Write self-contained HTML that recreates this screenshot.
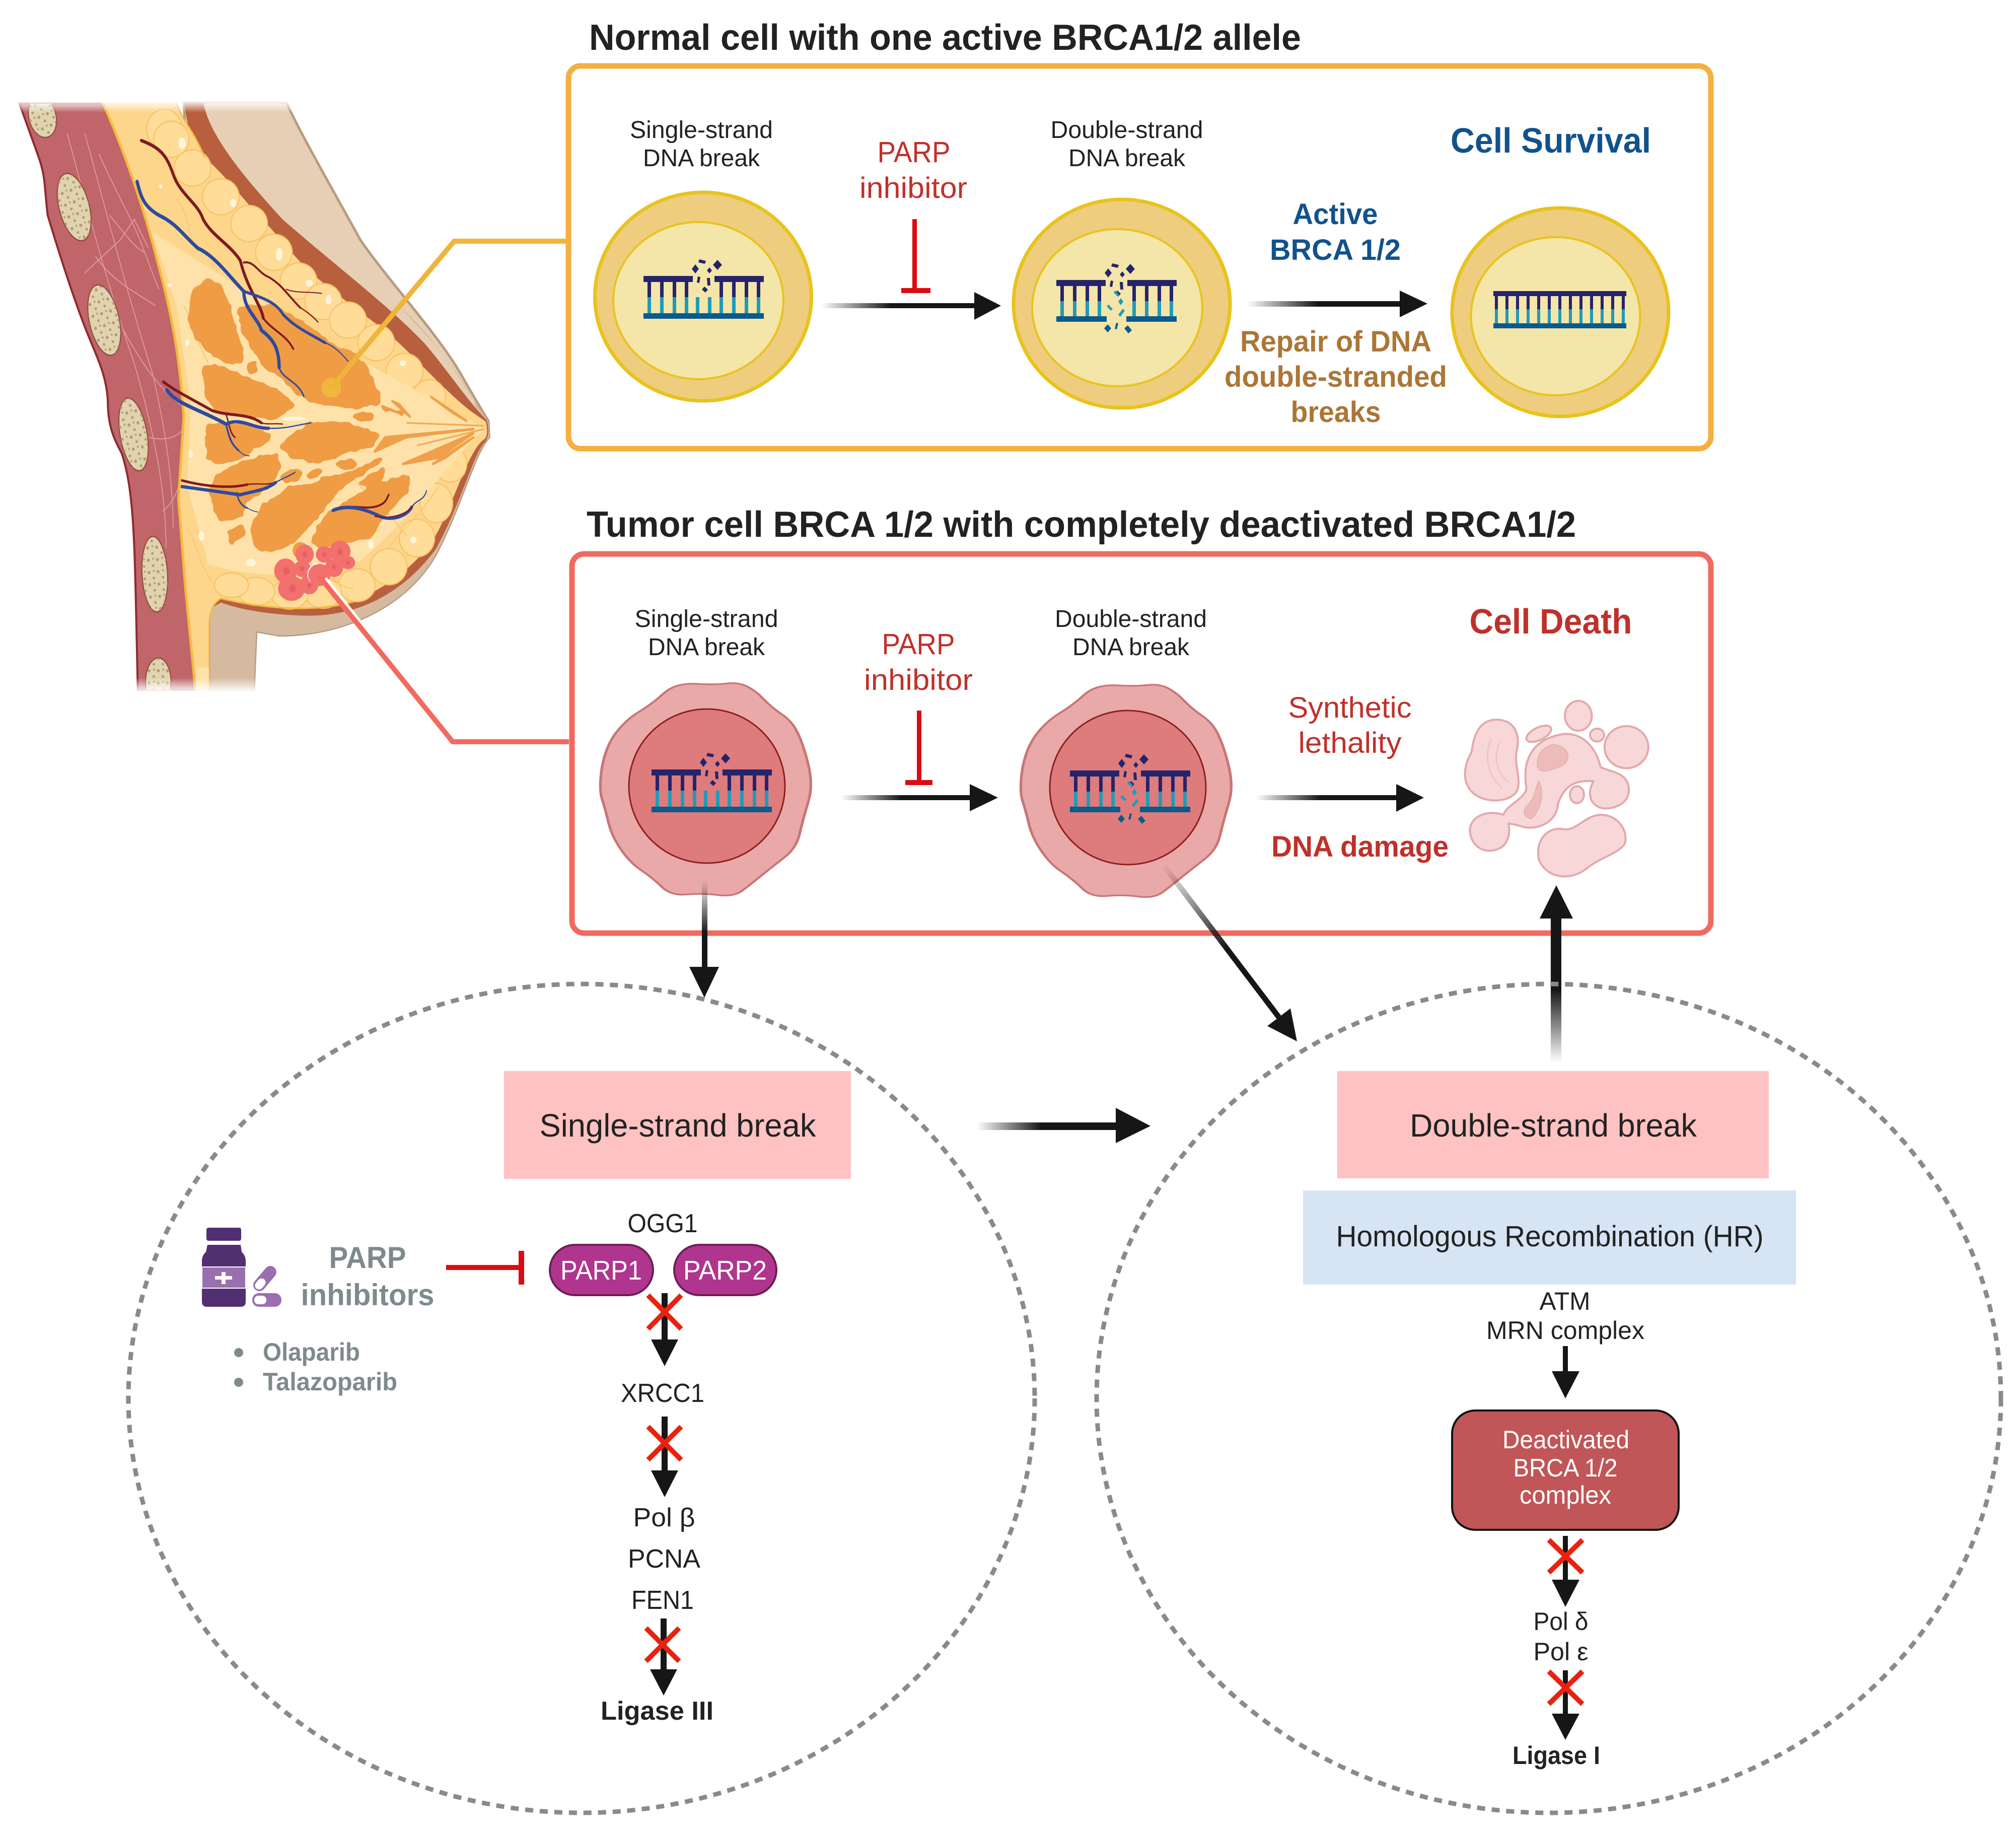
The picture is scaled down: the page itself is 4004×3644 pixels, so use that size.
<!DOCTYPE html>
<html><head><meta charset="utf-8"><style>
html,body{margin:0;padding:0;background:#fff}svg{display:block}
text{font-family:"Liberation Sans",sans-serif;fill:#222}
.m{text-anchor:middle}.b{font-weight:bold}
.r{fill:#c0302b}.bl{fill:#12528c}.br{fill:#ab7636}.g{fill:#7f8a8c}.w{fill:#fff}
.navy{fill:#25246b}.teal{fill:#1f9bb8}.dk{fill:#0a5a8c}
</style></head><body>
<svg width="4004" height="3644" viewBox="0 0 4004 3644" xmlns="http://www.w3.org/2000/svg">
<defs>
<linearGradient id="fh" x1="0" x2="1" y1="0" y2="0"><stop offset="0" stop-color="#161616" stop-opacity="0"/><stop offset=".45" stop-color="#161616"/><stop offset="1" stop-color="#161616"/></linearGradient>
<linearGradient id="fv" x1="0" x2="0" y1="0" y2="1"><stop offset="0" stop-color="#161616" stop-opacity="0"/><stop offset=".6" stop-color="#161616"/></linearGradient>
<linearGradient id="fu" x1="0" x2="0" y1="1" y2="0"><stop offset="0" stop-color="#161616" stop-opacity="0"/><stop offset=".5" stop-color="#161616"/></linearGradient>
<linearGradient id="fd" gradientUnits="userSpaceOnUse" x1="2310" y1="1717" x2="2540" y2="2020"><stop offset="0" stop-color="#161616" stop-opacity="0"/><stop offset=".55" stop-color="#161616"/></linearGradient>
<linearGradient id="wt" x1="0" x2="0" y1="0" y2="1"><stop offset="0" stop-color="#fff"/><stop offset="1" stop-color="#fff" stop-opacity="0"/></linearGradient>
<linearGradient id="wb" x1="0" x2="0" y1="1" y2="0"><stop offset="0" stop-color="#fff"/><stop offset="1" stop-color="#fff" stop-opacity="0"/></linearGradient>
<filter id="cl" x="-5%" y="-5%" width="110%" height="110%" color-interpolation-filters="sRGB">
<feTurbulence type="fractalNoise" baseFrequency=".025" numOctaves="2" seed="3" result="n"/>
<feDisplacementMap in="SourceGraphic" in2="n" scale="34" xChannelSelector="R" yChannelSelector="G" result="d"/>
<feGaussianBlur in="d" stdDeviation="8" result="bl"/>
<feComponentTransfer in="bl"><feFuncA type="linear" slope="10" intercept="-4"/></feComponentTransfer>
</filter>
<pattern id="sp" width="26" height="30" patternUnits="userSpaceOnUse"><circle cx="6" cy="8" r="4" fill="#b89a70"/><circle cx="19" cy="22" r="3.5" fill="#b89a70"/><circle cx="20" cy="5" r="2.5" fill="#b89a70"/></pattern>

<g id="rungsL">
<rect class="navy" x="8" y="12" width="7" height="30"/><rect class="navy" x="33" y="12" width="7" height="30"/><rect class="navy" x="58" y="12" width="7" height="30"/><rect class="navy" x="82" y="12" width="7" height="30"/>
<rect class="navy" x="151" y="12" width="7" height="30"/><rect class="navy" x="176" y="12" width="7" height="30"/><rect class="navy" x="201" y="12" width="7" height="30"/><rect class="navy" x="225" y="12" width="7" height="30"/>
<rect class="teal" x="8" y="42" width="7" height="32"/><rect class="teal" x="33" y="42" width="7" height="32"/><rect class="teal" x="58" y="42" width="7" height="32"/><rect class="teal" x="82" y="42" width="7" height="32"/>
<rect class="teal" x="151" y="42" width="7" height="32"/><rect class="teal" x="176" y="42" width="7" height="32"/><rect class="teal" x="201" y="42" width="7" height="32"/><rect class="teal" x="225" y="42" width="7" height="32"/>
<rect class="navy" x="0" y="0" width="98" height="12"/><rect class="navy" x="141" y="0" width="98" height="12"/>
<path class="navy" d="M147,-32l9,10-9,10-9-10zM103,-23l7,9-7,9-7-9zM111,-33l13,3-2,6-13-3zM131,-17l5,6-5,6-5-6zM108,1l5,1-2,12-5-1zM126,4l6,0 1,15-6,0zM121,21l7,6-5,6-7-6z"/>
</g>
<g id="dnaS"><use href="#rungsL"/>
<rect class="teal" x="104" y="42" width="7" height="32"/><rect class="teal" x="128" y="42" width="7" height="32"/>
<rect class="dk" x="0" y="74" width="239" height="11"/></g>
<g id="dnaD"><use href="#rungsL"/>
<rect class="dk" x="0" y="72" width="100" height="11"/><rect class="dk" x="139" y="72" width="100" height="11"/>
<path class="teal" d="M117,21l8,8-3,4-8-8zM128,36l5,7-5,7-5-7zM104,49l8,9-4,3-8-9zM132,57l4,4-9,12-4-4z"/>
<path class="dk" d="M119,85l4,1-3,12-4-1zM102,88l7,8-7,8-7-8zM142,90l8,10-7,6-8-10z"/></g>

<clipPath id="muscle"><path d="M55,68L290,68C390,260 430,400 460,500C490,600 510,700 520,830L505,1030L525,1250L553,1495L390,1495L385,1300C380,1100 375,1000 345,920C320,880 305,850 305,790C300,720 270,680 235,600C200,520 170,440 135,340C125,270 130,250 110,200Z"/></clipPath>
<path id="wavy" d="M315,568Q360,572 385,567Q410,562 430,578Q450,595 467,625Q485,655 507,680Q530,705 542,747Q555,790 566,865Q577,940 566,1000Q555,1060 547,1115Q540,1170 512,1205Q485,1240 462,1270Q440,1300 420,1325Q400,1350 365,1342Q330,1335 295,1340Q260,1345 240,1312Q220,1280 195,1252Q170,1225 150,1177Q130,1130 122,1080Q115,1030 107,990Q100,950 107,875Q115,800 137,750Q160,700 190,670Q220,640 245,602Q270,565 315,568Z"/>
<g id="ribs">
<ellipse cx="120" cy="100" rx="38" ry="52" transform="rotate(-20 120 100)"/>
<ellipse cx="210" cy="320" rx="42" ry="85" transform="rotate(-18 210 320)"/>
<ellipse cx="295" cy="595" rx="42" ry="88" transform="rotate(-15 295 595)"/>
<ellipse cx="378" cy="873" rx="38" ry="90" transform="rotate(-12 378 873)"/>
<ellipse cx="438" cy="1213" rx="36" ry="92" transform="rotate(-4 438 1213)"/>
<ellipse cx="448" cy="1475" rx="36" ry="58"/>
</g>
</defs>

<!-- Breast -->
<g transform="translate(0,150) scale(.7018,.8163)">
<path d="M575,65L810,65C850,140 930,260 1020,400C1100,500 1230,620 1300,720C1340,780 1360,810 1382,840L1384,880C1340,920 1310,1040 1230,1170C1140,1300 960,1362 790,1362L725,1352L718,1495L595,1495L595,1300L520,65Z" fill="#e7cfb5" stroke="#b79c80" stroke-width="5" vector-effect="non-scaling-stroke"/>
<path d="M1130,560C1230,640 1290,720 1340,790L1382,840L1384,880C1340,920 1310,1040 1230,1170C1140,1300 960,1362 790,1362L725,1352L718,1495L595,1495L595,1300C620,1270 650,1272 700,1285C900,1320 1100,1270 1230,1120C1300,1010 1310,930 1370,880L1340,790C1280,690 1200,630 1130,560Z" fill="#d6baa0"/>
<path d="M55,68L290,68C390,260 430,400 460,500C490,600 510,700 520,830L505,1030L525,1250L553,1495L390,1495L385,1300C380,1100 375,1000 345,920C320,880 305,850 305,790C300,720 270,680 235,600C200,520 170,440 135,340C125,270 130,250 110,200Z" fill="#c0656a" stroke="#8f2a2e" stroke-width="4" vector-effect="non-scaling-stroke"/>
<g clip-path="url(#muscle)" fill="none" stroke="#dc9c9e" stroke-width="2.5">
<path d="M190,140C240,300 300,500 380,700C430,850 470,1000 470,1150"/><path d="M240,140C300,330 370,560 430,720C470,860 490,1000 490,1100"/><path d="M280,190C300,230 340,300 370,350C400,400 420,460 450,520"/><path d="M310,340C350,380 380,420 410,430"/><path d="M270,440C320,500 370,520 440,560"/><path d="M350,620C400,700 450,760 510,800"/><path d="M420,880C470,890 500,880 520,860"/><path d="M460,1060C490,1040 505,1010 515,970"/>
<path d="M240,480L340,400L380,350L420,420"/>
</g>
<g clip-path="url(#muscle)" stroke="#8f4a3a" stroke-width="3" fill="#dfd3b0"><use href="#ribs"/></g>
<g clip-path="url(#muscle)" fill="url(#sp)"><use href="#ribs"/></g>
<!-- brown rim -->
<path d="M520,65L575,65C590,130 650,210 800,350C960,470 1100,560 1200,650C1270,720 1330,800 1378,838C1384,860 1384,880 1372,892C1340,920 1310,1030 1235,1150C1150,1250 1030,1312 880,1314C780,1314 680,1300 625,1282L590,1300L590,400Z" fill="#b8603e"/>
<!-- fatty body -->
<path d="M500,65C520,120 540,120 580,200C620,230 660,270 720,330C790,390 830,440 880,480C950,530 1010,570 1090,620C1170,680 1250,760 1330,815L1375,842C1380,860 1380,880 1370,885C1330,910 1300,1000 1250,1090C1210,1170 1110,1240 1000,1280C900,1305 760,1300 625,1272C600,1285 592,1310 592,1340L590,1495L553,1495L525,1250L505,1030L520,830C510,700 490,600 460,500C430,400 390,260 290,65Z" fill="#fdd68c"/>
<g fill="#ffdc98" stroke="#f7c266" stroke-width="3">
<ellipse cx="465" cy="130" rx="50" ry="48"/><ellipse cx="485" cy="155" rx="50" ry="44"/><ellipse cx="545" cy="225" rx="52" ry="44"/><ellipse cx="625" cy="295" rx="52" ry="44"/><ellipse cx="705" cy="360" rx="52" ry="44"/><ellipse cx="775" cy="430" rx="52" ry="44"/><ellipse cx="845" cy="500" rx="52" ry="44"/><ellipse cx="915" cy="550" rx="52" ry="44"/><ellipse cx="985" cy="595" rx="52" ry="44"/><ellipse cx="1065" cy="650" rx="52" ry="44"/><ellipse cx="1145" cy="720" rx="52" ry="44"/><ellipse cx="1215" cy="780" rx="46" ry="40"/>
<ellipse cx="1275" cy="945" rx="46" ry="44"/><ellipse cx="1235" cy="1040" rx="46" ry="48"/><ellipse cx="1180" cy="1125" rx="50" ry="46"/><ellipse cx="1100" cy="1195" rx="52" ry="44"/><ellipse cx="1010" cy="1240" rx="52" ry="40"/><ellipse cx="915" cy="1258" rx="52" ry="38"/><ellipse cx="820" cy="1262" rx="52" ry="36"/><ellipse cx="725" cy="1255" rx="52" ry="34"/><ellipse cx="655" cy="1240" rx="48" ry="30"/>
</g>
<path d="M430,380C560,450 700,530 860,610C1000,690 1200,770 1370,860C1250,960 1160,1080 1020,1180C880,1230 720,1220 590,1190L530,1000L540,800L500,560Z" fill="#fee2aa"/>
<path d="M290,65C390,260 430,400 460,500C490,600 510,700 520,830L505,1030L525,1250L553,1495" fill="none" stroke="#f5b93f" stroke-width="5" vector-effect="non-scaling-stroke"/>
<path d="M500,65C520,120 540,120 580,200" fill="none" stroke="#f5b93f" stroke-width="4"/>
<path d="M592,1495L592,1340C592,1310 600,1285 625,1272C760,1300 900,1305 1000,1280" fill="none" stroke="#f5b93f" stroke-width="4"/>
<rect x="555" y="1440" width="36" height="55" fill="#fee2aa"/>
<g fill="none" stroke="#f9c878" stroke-width="3">
<path d="M500,300C540,340 530,400 560,430"/><path d="M590,700C560,660 550,600 520,560"/><path d="M530,1100C560,1150 570,1200 600,1230"/><path d="M1000,980C1040,1020 1100,1060 1150,1120"/><path d="M1100,1150C1130,1110 1200,1060 1240,1000"/><path d="M850,1150C900,1220 960,1240 1000,1250"/>
</g>
<path d="M1110,792L1160,830L1130,800ZM1220,782L1320,840L1280,820ZM1090,880L1340,860L1150,880L1060,915ZM1140,945L1340,870L1240,930ZM1225,945L1340,880L1260,930Z" fill="#f0a04b" stroke="#f0a04b" stroke-width="6" stroke-linejoin="round"/>
<path d="M1150,845L1370,852M1180,900L1370,860" stroke="#f2ab56" stroke-width="4" fill="none"/>
<g fill="#fff6dc">
<ellipse cx="515" cy="165" rx="10" ry="14"/><ellipse cx="660" cy="310" rx="9" ry="10"/><ellipse cx="790" cy="435" rx="9" ry="16"/><ellipse cx="875" cy="505" rx="10" ry="8"/><ellipse cx="930" cy="545" rx="8" ry="12"/><ellipse cx="1140" cy="700" rx="9" ry="7"/><ellipse cx="710" cy="1185" rx="14" ry="9"/><ellipse cx="1050" cy="1140" rx="8" ry="12"/><ellipse cx="540" cy="920" rx="6" ry="10"/><ellipse cx="570" cy="1120" rx="8" ry="12"/><ellipse cx="1170" cy="1130" rx="9" ry="8"/><ellipse cx="455" cy="270" rx="5" ry="5"/><ellipse cx="480" cy="510" rx="6" ry="5"/><ellipse cx="530" cy="650" rx="6" ry="8"/><ellipse cx="830" cy="835" rx="35" ry="5"/><ellipse cx="1150" cy="985" rx="20" ry="5" transform="rotate(-35 1150 985)"/>
</g>
</g>
<!-- Glandular lobes (coords px=300+z/3) -->
<g transform="translate(300,600) scale(.3333)" filter="url(#cl)" fill="#ef9c45" stroke="#ef9c45" stroke-width="26" stroke-linejoin="round">
<path d="M340,-130L400,-100L455,0L495,170L540,290L530,350L450,355L330,275L245,150L230,90L255,-60Z"/>
<path d="M530,40L720,30L850,95L960,170L1100,280L1200,300L1290,410L1365,590L1230,620L1050,610L950,580L880,540L760,425L690,385L620,295L545,150Z"/>
<path d="M590,370L620,370L625,415L595,420Z"/>
<path d="M320,385L380,380L520,440L680,500L760,540L850,620L800,635L730,700L600,670L400,640L340,575L330,480L305,420Z"/>
<path d="M345,745L420,730L560,740L700,795L690,825L600,870L530,930L400,955L345,920L335,795Z"/>
<path d="M780,860L860,790L950,730L1150,725L1350,790L1310,850L1180,880L1000,950L845,920Z"/>
<path d="M1215,680L1260,675L1310,672L1305,695L1240,700Z"/>
<path d="M1110,960L1180,945L1210,965L1185,990L1130,980Z"/>
<path d="M390,1045L480,990L640,930L745,920L760,980L690,1100L555,1190L530,1270L430,1295L400,1265L360,1130Z"/>
<path d="M780,1040L860,1000L890,1020L870,1055L800,1065Z"/>
<path d="M935,1030L1000,1000L1020,1008L950,1040Z"/>
<path d="M1250,1080L1380,1000L1375,1035L1295,1090Z"/>
<path d="M600,1350L680,1210L830,1110L960,1100L1040,1050L1180,1030L1370,940L1200,1050L1100,1120L1000,1260L850,1420L720,1480L635,1460Z"/>
<path d="M965,1420L1040,1280L1200,1180L1350,1090L1500,1050L1540,1040L1520,1125L1450,1190L1330,1335L1300,1395L1150,1420L1000,1460Z"/>
<path d="M465,1375L545,1335L550,1385L485,1430Z"/>
<path d="M1370,620L1500,660L1500,675L1380,635Z" stroke-width="10"/>
</g>
<g transform="translate(0,150) scale(.7018,.8163)">
<ellipse cx="850" cy="1155" rx="22" ry="20" fill="#ee9b42"/>
<g fill="none" stroke="#7d1a1f" stroke-linecap="round">
<path stroke-width="8" d="M400,158C450,175 470,190 490,240C510,290 560,310 575,350C600,390 650,410 680,450C700,520 740,560 745,590"/>
<path stroke-width="5" d="M745,590C770,620 810,630 830,665"/>
<path stroke-width="5" d="M690,455C720,450 730,480 760,490C800,510 820,540 850,565"/><path stroke-width="3" d="M850,565C870,575 890,590 900,600"/>
<path stroke-width="2.5" d="M810,520C840,530 870,525 910,530"/>
<path stroke-width="7" d="M462,745C500,770 550,790 600,815C650,830 700,820 740,845"/><path stroke-width="3" d="M740,845C760,850 780,845 800,848"/>
<path stroke-width="4" d="M640,825C650,850 650,870 665,880"/>
<path stroke-width="6" d="M515,985C580,1000 650,1005 700,995"/><path stroke-width="3" d="M700,995C730,990 760,1000 790,985"/>
<path stroke-width="5" d="M945,1055C990,1040 1040,1060 1075,1045C1090,1040 1095,1030 1100,1020"/>
</g>
<g fill="none" stroke="#2e4aa0" stroke-linecap="round">
<path stroke-width="9" d="M388,258C400,300 410,320 450,340C500,360 520,390 560,420C610,440 650,490 690,525C690,570 730,590 740,620C770,640 790,660 790,710"/>
<path stroke-width="4" d="M790,710C800,740 840,740 860,780"/>
<path stroke-width="7" d="M690,525C740,540 780,550 800,580C830,610 880,630 920,650"/><path stroke-width="3" d="M920,650C950,660 970,680 985,695"/>
<path stroke-width="9" d="M472,765C500,800 560,810 640,848"/><path stroke-width="5" d="M640,848C650,890 660,900 675,912"/><path stroke-width="2.5" d="M675,912C685,920 690,925 705,925"/>
<path stroke-width="8" d="M640,848C680,830 720,860 760,858"/><path stroke-width="3" d="M760,858C810,860 840,850 880,845"/>
<path stroke-width="8" d="M515,1000C560,1005 640,1015 680,1020C720,1010 750,1010 780,990"/><path stroke-width="3" d="M780,990C810,975 820,975 835,965"/>
<path stroke-width="4" d="M670,1015C675,1040 690,1050 700,1052"/><path stroke-width="2" d="M700,1052C710,1058 720,1060 730,1062"/>
<path stroke-width="8" d="M942,1058C980,1045 1020,1050 1070,1070C1100,1085 1150,1075 1165,1050"/><path stroke-width="3" d="M1165,1050C1180,1030 1200,1035 1207,1010"/>
</g>
<path d="M1060,1072C1100,1080 1150,1070 1170,1045" fill="none" stroke="#7d1a1f" stroke-width="3"/>
<ellipse cx="938" cy="760" rx="28" ry="24" fill="#f0b73c"/>
<g fill="#f2706e">
<ellipse cx="808" cy="1205" rx="32" ry="30"/><ellipse cx="825" cy="1248" rx="38" ry="30"/><ellipse cx="862" cy="1165" rx="26" ry="24"/><ellipse cx="855" cy="1200" rx="24" ry="20"/><ellipse cx="875" cy="1238" rx="26" ry="24"/><ellipse cx="918" cy="1165" rx="24" ry="20"/><ellipse cx="962" cy="1158" rx="30" ry="26"/><ellipse cx="985" cy="1185" rx="20" ry="16"/><ellipse cx="945" cy="1198" rx="26" ry="22"/>
</g>
<g fill="#e66062">
<circle cx="810" cy="1205" r="9"/><circle cx="828" cy="1248" r="10"/><circle cx="862" cy="1165" r="7"/><circle cx="855" cy="1200" r="6"/><circle cx="962" cy="1158" r="8"/><circle cx="985" cy="1185" r="5"/><circle cx="945" cy="1195" r="6"/><circle cx="875" cy="1240" r="6"/><circle cx="918" cy="1165" r="6"/>
</g>
<rect x="40" y="60" width="800" height="30" fill="url(#wt)"/>
<rect x="370" y="1465" width="370" height="35" fill="url(#wb)"/>
</g>
<!-- Leaders -->
<path d="M658,770L902,479H1130" fill="none" stroke="#f0b43a" stroke-width="10"/>
<path d="M618,1156A22,22 0 0 1 632,1119" fill="none" stroke="#fff" stroke-width="3"/>
<circle cx="634" cy="1142" r="22" fill="#f2706e"/>
<path d="M644,1150L899,1473H1130" fill="none" stroke="#fff" stroke-width="13" stroke-dasharray="120 3000"/>
<path d="M632,1142L899,1473H1130" fill="none" stroke="#f26a5f" stroke-width="10"/>

<!-- Titles -->
<text x="1170" y="99" class="b" font-size="72" textLength="1414" lengthAdjust="spacingAndGlyphs">Normal cell with one active BRCA1/2 allele</text>
<text x="1165" y="1066" class="b" font-size="72" textLength="1965" lengthAdjust="spacingAndGlyphs">Tumor cell BRCA 1/2 with completely deactivated BRCA1/2</text>

<!-- Panels -->
<rect x="1129" y="131" width="2269" height="760" rx="24" fill="#fff" stroke="#f4b041" stroke-width="11"/>
<rect x="1136" y="1100" width="2262" height="753" rx="24" fill="#fff" stroke="#f26a5f" stroke-width="11"/>

<!-- Normal cells -->
<g stroke="#e8c31e">
<ellipse cx="1396.5" cy="589" rx="215" ry="207" fill="#eecd7f" stroke-width="7"/>
<ellipse cx="1387" cy="597" rx="169" ry="156" fill="#f4e5a9" stroke-width="4"/>
<ellipse cx="2228" cy="603" rx="215" ry="207" fill="#eecd7f" stroke-width="7"/>
<ellipse cx="2219" cy="611" rx="169" ry="156" fill="#f4e5a9" stroke-width="4"/>
<ellipse cx="3099" cy="620" rx="215" ry="207" fill="#eecd7f" stroke-width="7"/>
<ellipse cx="3089.5" cy="628" rx="168" ry="157" fill="#f4e5a9" stroke-width="4"/>
</g>
<use href="#dnaS" x="1278" y="548"/>
<use href="#dnaD" x="2098" y="556"/>
<g transform="translate(2966,578)">
<path class="navy" d="M3,9h6v27h-6zM24,9h6v27h-6zM45,9h6v27h-6zM66,9h6v27h-6zM87,9h6v27h-6zM108,9h6v27h-6zM129,9h6v27h-6zM150,9h6v27h-6zM171,9h6v27h-6zM192,9h6v27h-6zM213,9h6v27h-6zM234,9h6v27h-6zM255,9h6v27h-6z"/>
<path class="teal" d="M3,36h6v28h-6zM24,36h6v28h-6zM45,36h6v28h-6zM66,36h6v28h-6zM87,36h6v28h-6zM108,36h6v28h-6zM129,36h6v28h-6zM150,36h6v28h-6zM171,36h6v28h-6zM192,36h6v28h-6zM213,36h6v28h-6zM234,36h6v28h-6zM255,36h6v28h-6z"/>
<rect class="navy" x="0" y="0" width="264" height="10"/>
<rect class="dk" x="0" y="64" width="264" height="10"/>
</g>

<!-- Normal labels -->
<text x="1393" y="274" class="m" font-size="48" textLength="284" lengthAdjust="spacingAndGlyphs">Single-strand</text>
<text x="1393" y="330" class="m" font-size="48" textLength="232" lengthAdjust="spacingAndGlyphs">DNA break</text>
<text x="2238" y="274" class="m" font-size="48" textLength="303" lengthAdjust="spacingAndGlyphs">Double-strand</text>
<text x="2238" y="330" class="m" font-size="48" textLength="232" lengthAdjust="spacingAndGlyphs">DNA break</text>
<text x="1815" y="322" class="m r" font-size="58" textLength="145" lengthAdjust="spacingAndGlyphs">PARP</text>
<text x="1814" y="393" class="m r" font-size="58" textLength="214" lengthAdjust="spacingAndGlyphs">inhibitor</text>
<path d="M1812,435h9v137h27v10h-58v-10h22z" fill="#dc0b12"/>
<rect x="1631" y="602" width="310" height="10" fill="url(#fh)"/><path d="M1935,580L1988,607L1935,635Z" fill="#161616"/>
<text x="3080" y="303" class="m b bl" font-size="70" textLength="398" lengthAdjust="spacingAndGlyphs">Cell Survival</text>
<text x="2652" y="445" class="m b bl" font-size="58" textLength="169" lengthAdjust="spacingAndGlyphs">Active</text>
<text x="2652" y="516" class="m b bl" font-size="58" textLength="260" lengthAdjust="spacingAndGlyphs">BRCA 1/2</text>
<rect x="2477" y="598" width="310" height="11" fill="url(#fh)"/><path d="M2780,577L2835,603L2780,630Z" fill="#161616"/>
<text x="2653" y="698" class="m b br" font-size="58" textLength="380" lengthAdjust="spacingAndGlyphs">Repair of DNA</text>
<text x="2653" y="768" class="m b br" font-size="58" textLength="442" lengthAdjust="spacingAndGlyphs">double-stranded</text>
<text x="2653" y="838" class="m b br" font-size="58" textLength="179" lengthAdjust="spacingAndGlyphs">breaks</text>

<!-- Tumor cells -->
<g transform="translate(1100,1050) scale(.893,.542)"><use href="#wavy" fill="#e9a9a8" stroke="#c87676" stroke-width="6"/></g>
<g transform="translate(1935,1053) scale(.893,.542)"><use href="#wavy" fill="#e9a9a8" stroke="#c87676" stroke-width="6"/></g>
<ellipse cx="1404" cy="1561" rx="155" ry="153" fill="#de7b7c" stroke="#8e1f1f" stroke-width="3"/>
<ellipse cx="2240" cy="1564" rx="155" ry="153" fill="#de7b7c" stroke="#8e1f1f" stroke-width="3"/>
<use href="#dnaS" x="1294" y="1528"/>
<use href="#dnaD" x="2125" y="1530"/>
<text x="1403" y="1245" class="m" font-size="48" textLength="285" lengthAdjust="spacingAndGlyphs">Single-strand</text>
<text x="1403" y="1301" class="m" font-size="48" textLength="232" lengthAdjust="spacingAndGlyphs">DNA break</text>
<text x="2246" y="1245" class="m" font-size="48" textLength="302" lengthAdjust="spacingAndGlyphs">Double-strand</text>
<text x="2246" y="1301" class="m" font-size="48" textLength="232" lengthAdjust="spacingAndGlyphs">DNA break</text>
<text x="1824" y="1299" class="m r" font-size="58" textLength="145" lengthAdjust="spacingAndGlyphs">PARP</text>
<text x="1824" y="1370" class="m r" font-size="58" textLength="216" lengthAdjust="spacingAndGlyphs">inhibitor</text>
<path d="M1821,1411h9v138h22v10h-54v-10h23z" fill="#dc0b12"/>
<rect x="1671" y="1579" width="265" height="10" fill="url(#fh)"/><path d="M1926,1557L1982,1584L1926,1611Z" fill="#161616"/>
<text x="3080" y="1258" class="m b r" font-size="70" textLength="323" lengthAdjust="spacingAndGlyphs">Cell Death</text>
<text x="2681" y="1425" class="m r" font-size="58" textLength="245" lengthAdjust="spacingAndGlyphs">Synthetic</text>
<text x="2681" y="1495" class="m r" font-size="58" textLength="205" lengthAdjust="spacingAndGlyphs">lethality</text>
<rect x="2495" y="1579" width="285" height="10" fill="url(#fh)"/><path d="M2773,1557L2828,1584L2773,1612Z" fill="#161616"/>
<text x="2701" y="1701" class="m b r" font-size="58" textLength="352" lengthAdjust="spacingAndGlyphs">DNA damage</text>

<!-- Dead cell -->
<g transform="translate(2400,1100) scale(.7018,.5102)" fill="#f7d7d7" stroke="#e3a9ac" stroke-width="4">
<path vector-effect="non-scaling-stroke" d="M815,645C865,645 885,700 872,770C865,830 890,890 870,930C840,975 770,965 745,925C715,880 725,820 745,770C750,710 765,645 815,645Z"/>
<path d="M800,720C780,790 790,860 830,910M825,730C805,790 815,850 850,890" fill="none" stroke="#f0c6c8" stroke-width="3" vector-effect="non-scaling-stroke"/>
<ellipse vector-effect="non-scaling-stroke" cx="935" cy="700" rx="42" ry="22" transform="rotate(-40 935 700)"/>
<ellipse vector-effect="non-scaling-stroke" cx="1047" cy="630" rx="38" ry="58"/>
<ellipse vector-effect="non-scaling-stroke" cx="1100" cy="705" rx="20" ry="25"/>
<ellipse vector-effect="non-scaling-stroke" cx="1183" cy="752" rx="62" ry="82"/>
<path vector-effect="non-scaling-stroke" d="M1010,700C1070,700 1100,770 1110,830C1140,850 1190,850 1190,920C1190,970 1150,995 1115,990C1080,980 1070,930 1090,885C1050,880 1010,890 990,970C985,1050 930,1070 900,1065C880,1060 865,1050 850,1050C855,1100 845,1150 800,1155C760,1160 738,1110 740,1070C745,1020 790,995 835,1015C845,975 900,950 900,910C890,830 900,720 1010,700Z"/>
<ellipse vector-effect="non-scaling-stroke" cx="1043" cy="937" rx="20" ry="33"/>
<path vector-effect="non-scaling-stroke" d="M1110,1015C1160,1015 1190,1080 1178,1130C1155,1170 1110,1180 1070,1225C1030,1270 960,1270 935,1190C925,1110 960,1065 1000,1070C1040,1085 1060,1020 1110,1015Z"/>
<path d="M980,742C1020,750 1030,800 1000,825C970,840 940,860 932,830C925,790 945,745 980,742Z" fill="#eebbbb" stroke="#e8b0b0" stroke-width="2" vector-effect="non-scaling-stroke"/>
<path d="M935,885C950,920 945,990 915,1030C895,1030 885,1000 905,975C925,950 925,910 935,885Z" fill="#eebbbb" stroke="#e8b0b0" stroke-width="2" vector-effect="non-scaling-stroke"/>
</g>
<rect x="3080" y="1820" width="21" height="290" fill="url(#fu)"/><path d="M3091,1758L3124,1824L3058,1824Z" fill="#161616"/>

<!-- Circles -->
<ellipse cx="1155" cy="2777" rx="900" ry="823" fill="none" stroke="#868b8d" stroke-width="9" stroke-dasharray="16 13"/>
<ellipse cx="3076" cy="2777" rx="898" ry="823" fill="none" stroke="#868b8d" stroke-width="9" stroke-dasharray="16 13"/>

<!-- Connectors -->
<rect x="1394" y="1749" width="11" height="175" fill="url(#fv)"/><path d="M1369,1920L1428,1920L1399,1981Z" fill="#161616"/>
<path d="M2310,1717L2540,2020" fill="none" stroke="url(#fd)" stroke-width="11"/>
<path d="M2576,2068L2517,2037.5L2563,2002.5Z" fill="#161616"/>
<rect x="1940" y="2229" width="285" height="15" fill="url(#fh)"/><path d="M2216,2200L2285,2236L2216,2270Z" fill="#161616"/>

<!-- Left circle -->
<rect x="1001" y="2127" width="689" height="214" fill="#ffc2c2"/>
<text x="1346" y="2257" class="m" font-size="64" textLength="549" lengthAdjust="spacingAndGlyphs">Single-strand break</text>
<text x="1316" y="2447" class="m" font-size="52" textLength="139" lengthAdjust="spacingAndGlyphs">OGG1</text>
<rect x="1092" y="2472" width="205" height="100" rx="50" fill="#b0358e" stroke="#6e1f55" stroke-width="4"/>
<rect x="1339" y="2472" width="203" height="100" rx="50" fill="#b0358e" stroke="#6e1f55" stroke-width="4"/>
<text x="1194" y="2541" class="m w" font-size="54" textLength="162" lengthAdjust="spacingAndGlyphs">PARP1</text>
<text x="1440" y="2541" class="m w" font-size="54" textLength="166" lengthAdjust="spacingAndGlyphs">PARP2</text>
<g fill="#161616">
<rect x="1314" y="2568" width="12" height="95"/><path d="M1293,2660H1347L1320,2713Z"/>
<rect x="1314" y="2813" width="12" height="110"/><path d="M1293,2920H1347L1320,2973Z"/>
<rect x="1312" y="3214" width="12" height="104"/><path d="M1291,3315H1345L1318,3367Z"/>
</g>
<g fill="none" stroke="#e8220f" stroke-width="10">
<path d="M1287,2572L1353,2639M1353,2572L1287,2639"/>
<path d="M1287,2833L1353,2899M1353,2833L1287,2899"/>
<path d="M1283,3233L1349,3299M1349,3233L1283,3299"/>
</g>
<text x="1316" y="2784" class="m" font-size="52" textLength="166" lengthAdjust="spacingAndGlyphs">XRCC1</text>
<text x="1319" y="3031" class="m" font-size="52" textLength="123" lengthAdjust="spacingAndGlyphs">Pol β</text>
<text x="1319" y="3113" class="m" font-size="52" textLength="144" lengthAdjust="spacingAndGlyphs">PCNA</text>
<text x="1316" y="3195" class="m" font-size="52" textLength="124" lengthAdjust="spacingAndGlyphs">FEN1</text>
<text x="1305" y="3415" class="m b" font-size="52" textLength="224" lengthAdjust="spacingAndGlyphs">Ligase III</text>
<path d="M886,2512H1030V2484H1041V2551H1030V2522H886Z" fill="#dc0b12"/>
<text x="730" y="2518" class="m b g" font-size="60" textLength="153" lengthAdjust="spacingAndGlyphs">PARP</text>
<text x="730" y="2592" class="m b g" font-size="60" textLength="265" lengthAdjust="spacingAndGlyphs">inhibitors</text>
<circle cx="474" cy="2686" r="9" fill="#7f8a8c"/><circle cx="474" cy="2745" r="9" fill="#7f8a8c"/>
<text x="522" y="2702" class="b g" font-size="50" textLength="193" lengthAdjust="spacingAndGlyphs">Olaparib</text>
<text x="522" y="2761" class="b g" font-size="50" textLength="267" lengthAdjust="spacingAndGlyphs">Talazoparib</text>
<!-- Bottle -->
<rect x="410" y="2438" width="69" height="26" rx="4" fill="#513072"/>
<path d="M412,2472H478L480,2486C484,2490 488,2495 488,2505V2585Q488,2595 478,2595H411Q401,2595 401,2585V2505C401,2495 405,2490 409,2486Z" fill="#513072"/>
<rect x="401" y="2516" width="87" height="42" fill="#9a6fb0" stroke="#fff" stroke-width="2"/>
<path d="M440,2526h8v8h13v7h-13v9h-8v-9h-13v-7h13z" fill="#fff"/>
<g transform="rotate(-50 526 2539)"><rect x="497" y="2527" width="58" height="24" rx="12" fill="#9a6fb0"/><rect x="500" y="2531" width="24" height="16" rx="8" fill="#fff"/></g>
<rect x="501" y="2568" width="58" height="27" rx="13" fill="#9a6fb0"/><rect x="505" y="2573" width="24" height="17" rx="8" fill="#fff"/>

<!-- Right circle -->
<rect x="2656" y="2127" width="857" height="213" fill="#ffc2c2"/>
<text x="3085" y="2257" class="m" font-size="64" textLength="570" lengthAdjust="spacingAndGlyphs">Double-strand break</text>
<rect x="2588" y="2364" width="979" height="187" fill="#d6e4f4"/>
<text x="3078" y="2475" class="m" font-size="58" textLength="849" lengthAdjust="spacingAndGlyphs">Homologous Recombination (HR)</text>
<text x="3108" y="2601" class="m" font-size="50" textLength="101" lengthAdjust="spacingAndGlyphs">ATM</text>
<text x="3109" y="2659" class="m" font-size="50" textLength="314" lengthAdjust="spacingAndGlyphs">MRN complex</text>
<g fill="#161616">
<rect x="3104" y="2673" width="10" height="52"/><path d="M3082,2723H3137L3109,2777Z"/>
<rect x="3104" y="3050" width="10" height="90"/><path d="M3082,3137H3137L3109,3191Z"/>
<rect x="3104" y="3317" width="10" height="88"/><path d="M3082,3403H3137L3109,3455Z"/>
</g>
<rect x="2884" y="2801" width="450" height="237" rx="46" fill="#c05658" stroke="#111" stroke-width="4"/>
<text x="3110" y="2876" class="m w" font-size="50" textLength="252" lengthAdjust="spacingAndGlyphs">Deactivated</text>
<text x="3109" y="2932" class="m w" font-size="50" textLength="207" lengthAdjust="spacingAndGlyphs">BRCA 1/2</text>
<text x="3109" y="2986" class="m w" font-size="50" textLength="182" lengthAdjust="spacingAndGlyphs">complex</text>
<g fill="none" stroke="#e8220f" stroke-width="10">
<path d="M3076,3058L3143,3123M3143,3058L3076,3123"/>
<path d="M3076,3319L3143,3384M3143,3319L3076,3384"/>
</g>
<text x="3100" y="3237" class="m" font-size="50" textLength="109" lengthAdjust="spacingAndGlyphs">Pol δ</text>
<text x="3100" y="3297" class="m" font-size="50" textLength="109" lengthAdjust="spacingAndGlyphs">Pol ε</text>
<text x="3091" y="3503" class="m b" font-size="50" textLength="174" lengthAdjust="spacingAndGlyphs">Ligase I</text>
</svg>
</body></html>
